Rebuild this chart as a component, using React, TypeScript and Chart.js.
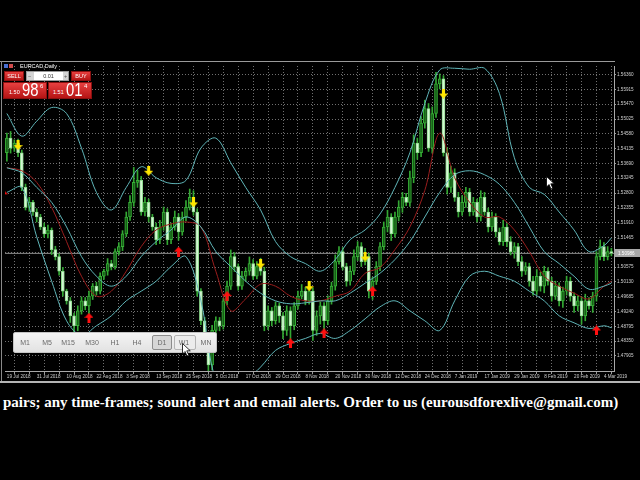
import React, { useEffect, useRef } from "react";
import { Chart, registerables } from "chart.js";

Chart.register(...registerables);

// ---------- data ----------
const X_TICK_LABELS = [
  "19 Jul 2018", "31 Jul 2018", "10 Aug 2018", "22 Aug 2018", "3 Sep 2018", "13 Sep 2018",
  "25 Sep 2018", "5 Oct 2018", "17 Oct 2018", "29 Oct 2018", "8 Nov 2018", "20 Nov 2018",
  "30 Nov 2018", "12 Dec 2018", "24 Dec 2018", "7 Jan 2019", "17 Jan 2019", "29 Jan 2019",
  "8 Feb 2019", "20 Feb 2019", "4 Mar 2019",
];
const Y_TICKS = [
  1.5636, 1.55915, 1.5547, 1.55025, 1.5458, 1.54135, 1.5369, 1.53245, 1.528, 1.52355,
  1.5191, 1.51465, 1.5102, 1.50575, 1.5013, 1.49685, 1.4924, 1.48795, 1.4835, 1.47905,
];
const FIRST_OPEN = 1.5401;
const CLOSE = [
  1.5445, 1.5415, 1.543, 1.5401, 1.5297, 1.5237, 1.5252, 1.5223, 1.5208, 1.5178,
  1.5157, 1.5169, 1.511, 1.5089, 1.5045, 1.4985, 1.4956, 1.4911, 1.4881, 1.4926,
  1.4956, 1.4941, 1.497, 1.5, 1.4985, 1.503, 1.5045, 1.5068, 1.5059, 1.5104,
  1.5119, 1.5157, 1.5208, 1.5252, 1.5312, 1.5318, 1.5223, 1.5252, 1.5208, 1.5178,
  1.514, 1.5178, 1.5223, 1.514, 1.5178, 1.5208, 1.5163, 1.5208, 1.5237, 1.5267,
  1.5223, 1.4985, 1.4896, 1.4822, 1.4763, 1.4867, 1.4896, 1.4881, 1.4956, 1.5,
  1.5089, 1.5059, 1.5, 1.503, 1.5045, 1.5068, 1.503, 1.5059, 1.5045, 1.4881,
  1.4926, 1.4896, 1.4941, 1.4911, 1.4867, 1.4926, 1.4881, 1.4941, 1.497, 1.4985,
  1.4956, 1.4985, 1.4867, 1.4911, 1.4941, 1.4896, 1.4956, 1.5, 1.5074, 1.5104,
  1.5059, 1.5015, 1.5045, 1.5089, 1.5119, 1.5074, 1.5089, 1.4985, 1.5015, 1.5059,
  1.5119, 1.5178, 1.5208, 1.5157, 1.5208, 1.5237, 1.5267, 1.5252, 1.5326, 1.543,
  1.5401, 1.549, 1.5534, 1.5415, 1.5519, 1.5608, 1.5623, 1.5401, 1.5297, 1.5341,
  1.5267, 1.5223, 1.5252, 1.5282, 1.5223, 1.5252, 1.5208, 1.5267, 1.5223, 1.5178,
  1.5208, 1.5163, 1.5134, 1.5178, 1.5134, 1.5104, 1.5119, 1.5074, 1.5045, 1.5059,
  1.5015, 1.4985, 1.503, 1.5, 1.5045, 1.5015, 1.497, 1.5, 1.4956, 1.4985,
  1.5015, 1.497, 1.4941, 1.4956, 1.4911, 1.4956, 1.4941, 1.497, 1.5089, 1.5119,
  1.5089, 1.5104, 1.5099,
];
const WICK_UP_PIPS = [
  15, 20, 10, 12, 8, 10, 15, 6, 10, 8,
  12, 15, 6, 10, 8, 12, 6, 10, 8, 15,
  12, 10, 15, 8, 12, 10, 6, 15, 10, 8,
  12, 10, 15, 20, 45, 30, 12, 15, 10, 8,
  12, 20, 15, 10, 12, 18, 10, 15, 20, 25,
  20, 10, 8, 10, 6, 15, 12, 10, 8, 15,
  20, 12, 8, 15, 10, 20, 12, 15, 25, 12,
  15, 10, 12, 8, 10, 15, 12, 10, 15, 20,
  12, 25, 10, 15, 12, 10, 15, 12, 20, 15,
  12, 10, 15, 20, 15, 12, 25, 10, 12, 15,
  12, 15, 20, 10, 15, 20, 15, 12, 20, 25,
  15, 20, 25, 15, 20, 35, 15, 10, 15, 20,
  12, 15, 20, 15, 12, 15, 10, 20, 15, 12,
  15, 10, 12, 20, 10, 15, 12, 10, 15, 12,
  10, 15, 20, 12, 15, 10, 12, 15, 10, 12,
  15, 12, 10, 15, 12, 20, 10, 12, 15, 20,
  12, 15, 10,
];
const WICK_DN_PIPS = [
  25, 15, 10, 12, 10, 8, 12, 10, 15, 8,
  10, 12, 15, 10, 12, 15, 10, 20, 30, 15,
  10, 12, 25, 10, 12, 8, 10, 12, 10, 8,
  10, 12, 8, 10, 12, 15, 10, 12, 15, 10,
  15, 12, 10, 15, 12, 10, 25, 10, 12, 8,
  10, 15, 12, 15, 20, 15, 12, 15, 10, 12,
  10, 15, 12, 10, 15, 12, 10, 8, 12, 15,
  12, 15, 10, 20, 25, 15, 45, 12, 10, 8,
  12, 10, 30, 15, 25, 45, 12, 10, 12, 8,
  10, 15, 12, 10, 12, 15, 10, 20, 25, 10,
  12, 10, 15, 20, 10, 12, 15, 10, 12, 15,
  20, 12, 15, 10, 15, 12, 15, 10, 20, 15,
  12, 15, 10, 15, 12, 10, 15, 12, 10, 15,
  12, 15, 10, 12, 15, 10, 20, 12, 15, 10,
  15, 12, 10, 15, 20, 12, 15, 10, 15, 20,
  12, 15, 20, 15, 25, 15, 10, 20, 15, 10,
  12, 10, 8,
];
const BAND_X = [
  0, 4, 8, 12, 16, 20, 24, 28, 32, 36, 40, 44, 48, 52, 56, 60, 64, 68, 72, 76, 80,
  84, 88, 92, 96, 100, 104, 108, 112, 116, 120, 124, 128, 132, 136, 140, 144, 148, 152, 156, 160, 162,
];
const BB_UPPER = [
  1.5519, 1.5451, 1.5496, 1.5537, 1.5519, 1.5415, 1.5282, 1.5229, 1.5297, 1.5359,
  1.5326, 1.5309, 1.5318, 1.5415, 1.5445, 1.5371, 1.5297, 1.5229, 1.5134, 1.5089,
  1.5068, 1.5045, 1.508, 1.514, 1.5169, 1.5217, 1.5297, 1.5401, 1.5549, 1.565,
  1.5655, 1.5652, 1.5655, 1.5579, 1.5386, 1.5297, 1.5276, 1.5223, 1.5169, 1.5104,
  1.5122, 1.5145,
];
const BB_MID = [
  1.5356, 1.5341, 1.5297, 1.5252, 1.5178, 1.5089, 1.503, 1.5, 1.503, 1.5089,
  1.5134, 1.5169, 1.5208, 1.5178, 1.5104, 1.5059, 1.5015, 1.4979, 1.4956, 1.4947,
  1.495, 1.4956, 1.4956, 1.4979, 1.5009, 1.5039, 1.508, 1.5134, 1.5208, 1.5282,
  1.5335, 1.5347, 1.5335, 1.5306, 1.5252, 1.5178, 1.5104, 1.5068, 1.503, 1.4991,
  1.5, 1.5009,
];
const BB_LOWER = [
  1.5282, 1.5297, 1.5148, 1.5015, 1.4896, 1.4852, 1.4881, 1.4911, 1.4956, 1.4985,
  1.5015, 1.5059, 1.5089, 1.4956, 1.4718, 1.4703, 1.4718, 1.4757, 1.4807, 1.4828,
  1.4843, 1.4858, 1.4843, 1.4867, 1.4902, 1.4938, 1.4956, 1.4926, 1.4896, 1.4867,
  1.4956, 1.503, 1.5045, 1.503, 1.5015, 1.4985, 1.4956, 1.4911, 1.489, 1.4873,
  1.4881, 1.4875,
];
const MA_RED = [
  1.5356, 1.5347, 1.5312, 1.5237, 1.5134, 1.503, 1.497, 1.4985, 1.5045, 1.5119,
  1.5169, 1.5187, 1.5193, 1.5178, 1.5045, 1.4926, 1.4962, 1.5006, 1.5, 1.497,
  1.4956, 1.4956, 1.497, 1.4985, 1.5039, 1.5056, 1.511, 1.5178, 1.5288, 1.546,
  1.5326, 1.5252, 1.5208, 1.5208, 1.5169, 1.5104, 1.503, 1.5, 1.4979, 1.4962,
  1.5, 1.5015,
];
const SELL_ARROWS: [number, number][] = [
  [3, 1.5424], [38, 1.5347], [50, 1.5252], [68, 1.5068], [81, 1.5], [96, 1.5089], [117, 1.5579],
];
const BUY_ARROWS: [number, number][] = [
  [-1, 1.5276], [22, 1.4905], [46, 1.5104], [59, 1.497], [76, 1.4828], [85, 1.4858], [98, 1.4985], [158, 1.4867],
];
const BID = 1.50986;
const X_MIN = -0.5;
const X_MAX = 162.7;
const Y_MIN = 1.47451;
const Y_MAX = 1.56618;

// ---------- style ----------
const GRID_COLOR = "rgba(150,150,150,0.75)";
const BULL_FILL = "#175e17";
const BULL_EDGE = "#36b036";
const BEAR_FILL = "#d4f7d4";
const BEAR_EDGE = "#8fdc8f";
const WICK = "#33a833";
const BAND = "#5fb5b8";
const RED_MA = "#9a1d1d";
const TICK_FONT = { family: '"Liberation Sans", Arial, sans-serif', size: 4.6 };

function makeArrow(color: string, down: boolean) {
  const c = document.createElement("canvas");
  c.width = 9;
  c.height = 10;
  const g = c.getContext("2d")!;
  g.fillStyle = color;
  g.beginPath();
  if (down) {
    g.moveTo(3, 0); g.lineTo(6, 0); g.lineTo(6, 5); g.lineTo(9, 5);
    g.lineTo(4.5, 10); g.lineTo(0, 5); g.lineTo(3, 5);
  } else {
    g.moveTo(3, 10); g.lineTo(6, 10); g.lineTo(6, 5); g.lineTo(9, 5);
    g.lineTo(4.5, 0); g.lineTo(0, 5); g.lineTo(3, 5);
  }
  g.closePath();
  g.fill();
  return c;
}

function Cursor({ x, y }: { x: number; y: number }) {
  return (
    <svg style={{ position: "absolute", left: x, top: y, zIndex: 5 }} width="10" height="14">
      <path d="M0.5 0.5 L0.5 11 L3 8.5 L5 13 L6.8 12.2 L4.8 7.8 L8.3 7.8 Z" fill="#fff" stroke="#000" strokeWidth="0.8" />
    </svg>
  );
}

export default function App() {
  const ref = useRef<HTMLCanvasElement | null>(null);

  useEffect(() => {
    const canvas = ref.current!;
    const opens = CLOSE.map((c, i) => (i === 0 ? FIRST_OPEN : CLOSE[i - 1]));
    const highs = CLOSE.map((c, i) => Math.max(opens[i], c) + WICK_UP_PIPS[i] * 0.0001);
    const lows = CLOSE.map((c, i) => Math.min(opens[i], c) - WICK_DN_PIPS[i] * 0.0001);
    const isBull = CLOSE.map((c, i) => c > opens[i]);

    const gridX: number[] = [];
    for (let v = 0; v <= 160; v += 4) gridX.push(v);

    const lineDs = (label: string, ys: number[], color: string) => ({
      type: "line" as const,
      label,
      data: BAND_X.map((x, k) => ({ x, y: ys[k] })),
      borderColor: color,
      borderWidth: 1,
      pointRadius: 0,
      tension: 0.35,
      order: 1,
    });

    const bidPlugin = {
      id: "bidLabel",
      afterDraw(ch: any) {
        const { ctx, chartArea, scales } = ch;
        const y = Math.round(scales.y.getPixelForValue(BID));
        ctx.save();
        ctx.fillStyle = "#a8a8a8";
        ctx.fillRect(chartArea.right + 1, y - 4, 25, 8);
        ctx.fillStyle = "#ffffff";
        ctx.font = '4.6px "Liberation Sans"';
        ctx.textBaseline = "middle";
        ctx.fillText(BID.toFixed(5), chartArea.right + 4, y + 0.5);
        ctx.restore();
      },
    };

    const chart = new Chart(canvas, {
      type: "bar",
      data: {
        datasets: [
          {
            type: "scatter",
            label: "sell",
            data: SELL_ARROWS.map(([x, y]) => ({ x, y })),
            pointStyle: makeArrow("#ffe600", true),
            order: 0,
          } as any,
          {
            type: "scatter",
            label: "buy",
            data: BUY_ARROWS.map(([x, y]) => ({ x, y })),
            pointStyle: makeArrow("#ff1010", false),
            order: 0,
          } as any,
          lineDs("upper", BB_UPPER, BAND),
          lineDs("mid", BB_MID, BAND),
          lineDs("lower", BB_LOWER, BAND),
          lineDs("ma", MA_RED, RED_MA),
          {
            type: "bar",
            label: "body",
            data: CLOSE.map((c, i) => ({ x: i, y: [opens[i], c] })),
            backgroundColor: isBull.map((b) => (b ? BULL_FILL : BEAR_FILL)),
            borderColor: isBull.map((b) => (b ? BULL_EDGE : BEAR_EDGE)),
            borderWidth: 1,
            borderSkipped: false,
            barThickness: 3,
            grouped: false,
            order: 2,
          } as any,
          {
            type: "bar",
            label: "wick",
            data: CLOSE.map((c, i) => ({ x: i, y: [lows[i], highs[i]] })),
            backgroundColor: WICK,
            borderWidth: 0,
            barThickness: 1,
            grouped: false,
            order: 3,
          } as any,
          {
            type: "line",
            label: "bid",
            data: [{ x: X_MIN, y: BID }, { x: X_MAX, y: BID }],
            borderColor: "#8a8a8a",
            borderWidth: 1,
            pointRadius: 0,
            order: 4,
          } as any,
        ],
      },
      options: {
        animation: false,
        responsive: false,
        maintainAspectRatio: false,
        events: [],
        layout: { padding: { left: 2, top: 1, right: 0, bottom: 0 } },
        plugins: { legend: { display: false }, tooltip: { enabled: false } },
        scales: {
          x: {
            type: "linear",
            min: X_MIN,
            max: X_MAX,
            offset: false,
            afterBuildTicks: (s: any) => {
              s.ticks = gridX.map((v) => ({ value: v }));
            },
            afterFit: (s: any) => {
              s.height = 10;
            },
            grid: { color: GRID_COLOR, lineWidth: 1, drawTicks: true, tickLength: 3, tickColor: "#9a9a9a" },
            border: { display: true, color: "#a8a8a8", width: 1, dash: [1, 2] },
            ticks: {
              autoSkip: false,
              maxRotation: 0,
              minRotation: 0,
              align: "start",
              padding: 0,
              color: "#cfcfcf",
              font: TICK_FONT,
              callback: (v: any) => (Number(v) % 8 === 0 ? X_TICK_LABELS[Number(v) / 8] : ""),
            },
          },
          y: {
            type: "linear",
            position: "right",
            min: Y_MIN,
            max: Y_MAX,
            afterBuildTicks: (s: any) => {
              s.ticks = Y_TICKS.map((v) => ({ value: v }));
            },
            afterFit: (s: any) => {
              s.width = 26;
            },
            grid: { color: GRID_COLOR, lineWidth: 1, drawTicks: true, tickLength: 2, tickColor: "#9a9a9a" },
            border: { display: true, color: "#a8a8a8", width: 1, dash: [1, 2] },
            ticks: {
              padding: 1,
              color: "#cfcfcf",
              font: TICK_FONT,
              callback: (v: any) => Number(v).toFixed(5),
            },
          },
        },
      } as any,
      plugins: [bidPlugin],
    });
    return () => chart.destroy();
  }, []);

  const redGrad = "linear-gradient(#e84040, #b51414)";
  const small: React.CSSProperties = { position: "absolute", font: '5.5px "Liberation Sans", sans-serif', color: "#fff" };
  const tf = ["M1", "M5", "M15", "M30", "H1", "H4", "D1", "W1", "MN"];
  const tfX = [25, 47, 68, 92, 115, 137, 162, 184, 206];

  return (
    <div style={{ position: "fixed", left: 0, top: 0, width: 640, height: 480, background: "#000", overflow: "hidden" }}>
      <div style={{ position: "absolute", left: 0, top: 61, width: 640, height: 320 }}>
        <canvas ref={ref} width={640} height={320} style={{ width: 640, height: 320, display: "block" }} />
      </div>
      {/* window frame */}
      <div style={{ position: "absolute", left: 0, top: 61, width: 615, height: 1, background: "#9a9a9a" }} />
      <div style={{ position: "absolute", left: 1, top: 61, width: 1, height: 320, background: "#8a8a8a" }} />
      <div style={{ position: "absolute", left: 0, top: 381, width: 640, height: 2, background: "#b4b4b4" }} />

      {/* title */}
      <div style={{ position: "absolute", left: 4, top: 64, width: 4, height: 4, background: "#4a6fd0" }} />
      <div style={{ position: "absolute", left: 9, top: 64, width: 4, height: 4, background: "#d04a4a" }} />
      <div style={{ ...small, left: 20, top: 63, lineHeight: "6px" }}>EURCAD,Daily</div>

      {/* one-click trading */}
      <div style={{ position: "absolute", left: 4, top: 71, width: 20, height: 10, background: redGrad, border: "1px solid #8a1010", boxSizing: "border-box" }} />
      <div style={{ ...small, left: 4, top: 71, width: 20, height: 10, lineHeight: "10px", textAlign: "center" }}>SELL</div>
      <div style={{ position: "absolute", left: 26, top: 71, width: 43, height: 10, background: "#d4d4d4", border: "1px solid #9a9a9a", boxSizing: "border-box" }} />
      <div style={{ position: "absolute", left: 34, top: 72, width: 29, height: 8, background: "#fff" }} />
      <div style={{ ...small, left: 28, top: 71, lineHeight: "10px", color: "#555" }}>−</div>
      <div style={{ ...small, left: 64, top: 71, lineHeight: "10px", color: "#555" }}>+</div>
      <div style={{ ...small, left: 34, top: 71, width: 29, lineHeight: "10px", textAlign: "center", color: "#333" }}>0.01</div>
      <div style={{ position: "absolute", left: 71, top: 71, width: 20, height: 10, background: redGrad, border: "1px solid #8a1010", boxSizing: "border-box" }} />
      <div style={{ ...small, left: 71, top: 71, width: 20, height: 10, lineHeight: "10px", textAlign: "center" }}>BUY</div>

      <div style={{ position: "absolute", left: 3, top: 82, width: 44, height: 17, background: redGrad, border: "1px solid #8a1010", boxSizing: "border-box" }} />
      <div style={{ ...small, left: 9, top: 89, lineHeight: "6px" }}>1.50</div>
      <div style={{ position: "absolute", left: 22, top: 80, font: '19px "Liberation Sans", sans-serif', color: "#fff", lineHeight: "19px", transform: "scaleX(0.78)", transformOrigin: "left top" }}>98</div>
      <div style={{ ...small, left: 40, top: 83, fontSize: "6px", lineHeight: "6px" }}>6</div>

      <div style={{ position: "absolute", left: 48, top: 82, width: 44, height: 17, background: redGrad, border: "1px solid #8a1010", boxSizing: "border-box" }} />
      <div style={{ ...small, left: 53, top: 89, lineHeight: "6px" }}>1.51</div>
      <div style={{ position: "absolute", left: 66, top: 80, font: '19px "Liberation Sans", sans-serif', color: "#fff", lineHeight: "19px", transform: "scaleX(0.78)", transformOrigin: "left top" }}>01</div>
      <div style={{ ...small, left: 84, top: 83, fontSize: "6px", lineHeight: "6px" }}>4</div>

      {/* timeframe toolbar */}
      <div style={{ position: "absolute", left: 13, top: 332, width: 204, height: 21, background: "linear-gradient(#f4f4f4, #e2e2e2)", border: "1px solid #c4c4c4", boxSizing: "border-box", borderRadius: 2, zIndex: 3 }} />
      <div style={{ position: "absolute", left: 152, top: 335, width: 20, height: 15, background: "#d6d6d6", border: "1px solid #8c8c8c", boxSizing: "border-box", borderRadius: 2, zIndex: 3 }} />
      <div style={{ position: "absolute", left: 174, top: 335, width: 22, height: 15, background: "#ececec", border: "1px solid #b4b4b4", boxSizing: "border-box", borderRadius: 2, zIndex: 3 }} />
      {tf.map((t, k) => (
        <div key={t} style={{ position: "absolute", left: tfX[k] - 10, top: 337, width: 20, textAlign: "center", font: '7px "Liberation Sans", sans-serif', lineHeight: "11px", color: "#6a6a6a", zIndex: 4 }}>{t}</div>
      ))}
      <Cursor x={182} y={343} />
      <Cursor x={546} y={176} />

      {/* caption */}
      <div style={{ position: "absolute", left: 3, top: 392, whiteSpace: "nowrap", font: 'bold 15px "Liberation Serif", serif', color: "#fff", lineHeight: "20px" }}>
        pairs; any time-frames; sound alert and email alerts. Order to us (eurousdforexlive@gmail.com)
      </div>
    </div>
  );
}
